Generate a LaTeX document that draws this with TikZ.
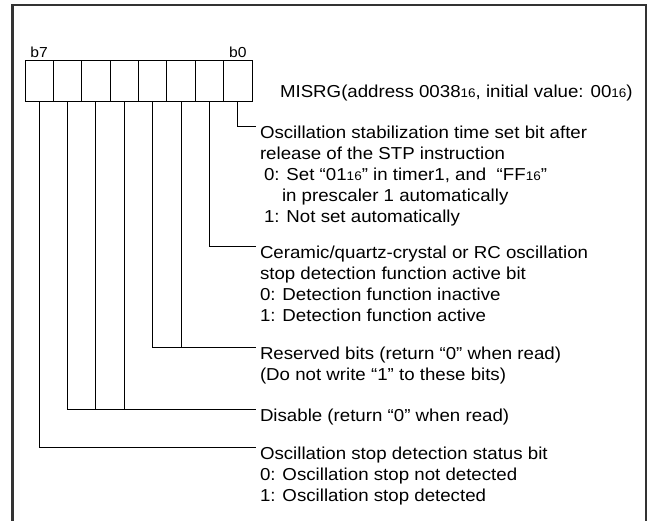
\documentclass[tikz,border=0pt]{standalone}
\usepackage{fontspec}
\setmainfont{Liberation Sans}[FakeStretch=1.08]
\usetikzlibrary{positioning}
\definecolor{FrameGray}{HTML}{333333}
\newcommand{\radix}[1]{{\fontsize{12.5}{12.5}\selectfont #1}}

\begin{document}
\begin{tikzpicture}[x=1pt,y=-1pt,
      every node/.style={inner sep=0pt},
      cell/.style={draw,line width=1pt,minimum width=28.375pt,minimum height=41pt},
      bitlbl/.style={font=\fontsize{14.5}{14.5}\selectfont},
      desc/.style={font=\fontsize{17.3}{21}\selectfont,align=left,anchor=north west,
        outer xsep=4pt,outer ysep=0pt},
      lead/.style={line width=0.9pt},
      frame/.style={line width=2.2pt,draw=FrameGray}]
      \useasboundingbox (0,0) rectangle (650,521);
      \draw[frame] (12.5,521) -- (12.5,5) -- (646,5) -- (646,521);
      \foreach \b in {0,...,7}
        \node[cell] (c\b) at ({25+28.375*(7.5-\b)},81.5) {};
      \node[bitlbl,above=2.5pt of c7] (lbl7) {b7};
      \node[bitlbl,above=2.5pt of c0] (lbl0) {b0};
      \node[desc,anchor=base west] (regname) at (276,98)
        {MISRG(address 0038\radix{16}, initial value: 00\radix{16})};
      \node[desc] (stpbit) at (256,126) {Oscillation stabilization time set bit after\\
        release of the STP instruction\\
        \hspace*{4pt}0: Set “01\radix{16}” in timer1, and\ \ “FF\radix{16}”\\
        \hspace*{22pt}in prescaler 1 automatically\\
        \hspace*{4pt}1: Not set automatically};
      \node[desc] (detbit) at (256,246) {Ceramic/quartz-crystal or RC oscillation\\
        stop detection function active bit\\
        0: Detection function inactive\\
        1: Detection function active};
      \node[desc] (resbit) at (256,347) {Reserved bits (return “0” when read)\\
        (Do not write “1” to these bits)};
      \node[desc] (disbit) at (256,409) {Disable (return “0” when read)};
      \node[desc] (statbit) at (256,447) {Oscillation stop detection status bit\\
        0: Oscillation stop not detected\\
        1: Oscillation stop detected};
      \draw[lead] (c0.south) |- (stpbit.north west);
      \draw[lead] (c1.south) |- (detbit.north west);
      \draw[lead] (c3.south) |- (resbit.north west);
      \draw[lead] (c2.south) -- (c2.south |- resbit.north west);
      \draw[lead] (c6.south) |- (disbit.north west);
      \draw[lead] (c5.south) -- (c5.south |- disbit.north west);
      \draw[lead] (c4.south) -- (c4.south |- disbit.north west);
      \draw[lead] (c7.south) |- (statbit.north west);
\end{tikzpicture}
\end{document}
